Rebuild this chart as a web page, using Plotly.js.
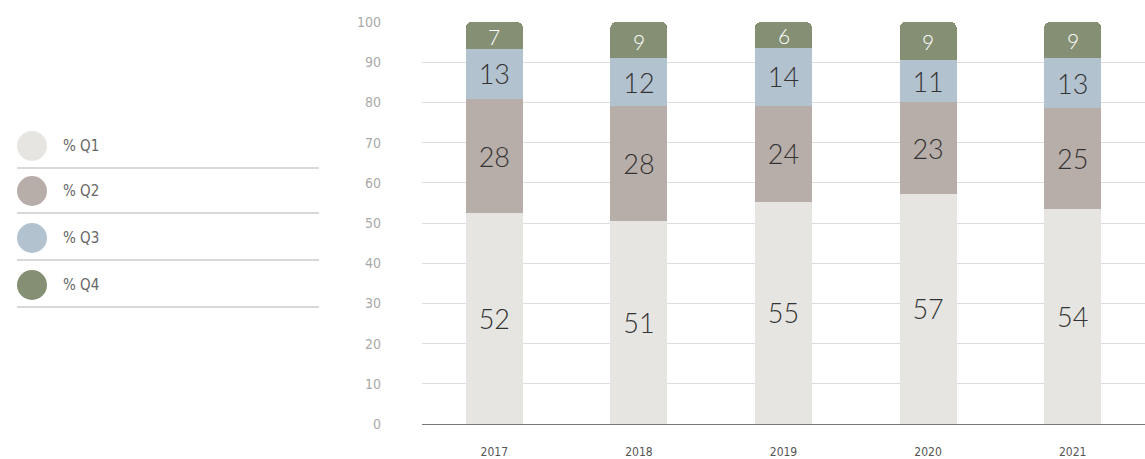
<!DOCTYPE html>
<html>
<head>
<meta charset="utf-8">
<script src="https://cdn.plot.ly/plotly-3.0.1.min.js"></script>
<style>
html,body{margin:0;padding:0;background:#fff;}
#chart{width:1145px;height:459px;}
</style>
</head>
<body>
<div id="chart"></div>
<script>
const years = ['2017', '2018', '2019', '2020', '2021'];
const q1 = [52.4, 50.6, 55.3, 57.3, 53.6];
const q2 = [28.4, 28.4, 23.9, 22.7, 24.9];
const q3 = [12.6, 12.0, 14.4, 10.6, 12.6];
const q4 = [6.6, 9.0, 6.4, 9.4, 8.9];
const seriesNames = ['% Q1', '% Q2', '% Q3', '% Q4'];
const colors = ['#e6e5e1', '#b8aea9', '#b3c2cf', '#848f73'];

const series = [q1, q2, q3, q4];
const labelFont = 'Lato, "Open Sans", sans-serif';
const narrowFont = '"DejaVu Sans Condensed", "Liberation Sans Narrow", "Roboto Condensed", sans-serif';
const traces = series.map((vals, i) => ({
  type: 'bar',
  name: seriesNames[i],
  x: years,
  y: vals,
  marker: {color: colors[i], line: {width: 0}},
  text: vals.map(v => String(Math.round(v))),
  textposition: i === 3 ? 'none' : 'inside',
  insidetextanchor: 'middle',
  constraintext: 'none',
  textangle: 0,
  texttemplate: '%{text}',
  textfont: {family: labelFont, size: 27, color: '#333333', weight: 300},
  hoverinfo: 'skip',
  showlegend: false
}));

// custom legend (left side)
const plotLeft = 422, plotW = 723, plotBottom = 424, plotH = 402;
const px = x => (x - plotLeft) / plotW;
const py = y => (plotBottom - y) / plotH;
const legendY = [146, 191, 238, 285];
const sepY = [168, 213, 260, 307];
const shapes = [];
const annotations = [];
seriesNames.forEach((n, i) => {
  shapes.push({
    type: 'circle', xref: 'paper', yref: 'paper',
    xsizemode: 'pixel', ysizemode: 'pixel',
    xanchor: px(32), yanchor: py(legendY[i]),
    x0: -15, x1: 15, y0: -15, y1: 15,
    fillcolor: colors[i], line: {width: 0}
  });
  shapes.push({
    type: 'line', xref: 'paper', yref: 'paper',
    x0: px(17), x1: px(319), y0: py(sepY[i]), y1: py(sepY[i]),
    line: {color: '#cccccc', width: 1.5}
  });
  annotations.push({
    xref: 'paper', yref: 'paper', x: px(61), y: py(legendY[i]),
    xanchor: 'left', yanchor: 'middle', showarrow: false,
    text: n,
    font: {family: narrowFont, size: 15, color: '#666666'}
  });
});

// Q4 labels (white) placed at the middle of the top segment (x = category index)
years.forEach((yr, j) => {
  const base = q1[j] + q2[j] + q3[j];
  annotations.push({
    xref: 'x', yref: 'y', x: j, y: base + q4[j] / 2,
    yshift: -1,
    showarrow: false, xanchor: 'center', yanchor: 'middle',
    text: String(Math.round(q4[j])),
    font: {family: labelFont, size: 21, color: '#ffffff', weight: 300}
  });
});

const layout = {
  width: 1145, height: 459,
  margin: {l: plotLeft, r: 0, t: 22, b: 35},
  paper_bgcolor: '#ffffff', plot_bgcolor: '#ffffff',
  barmode: 'stack',
  bargap: 0.605,
  barcornerradius: 6,
  showlegend: false,
  xaxis: {
    type: 'category',
    categoryorder: 'array',
    categoryarray: years,
    range: [-0.5, years.length - 0.5],
    showgrid: false,
    showline: true, linecolor: '#777777', linewidth: 1,
    ticks: '',
    ticklabelstandoff: 17,
    tickfont: {family: narrowFont, size: 12, color: '#555555'},
    fixedrange: true
  },
  yaxis: {
    range: [0, 100],
    tickvals: [0, 10, 20, 30, 40, 50, 60, 70, 80, 90, 100],
    showgrid: true, gridcolor: '#dddddd', gridwidth: 1,
    zeroline: false,
    showline: false,
    ticks: '',
    ticklabelstandoff: 40,
    tickfont: {family: narrowFont, size: 14, color: '#aaaaaa'},
    fixedrange: true
  },
  shapes: shapes,
  annotations: annotations,
  uniformtext: {mode: false}
};

Plotly.newPlot('chart', traces, layout, {displayModeBar: false, staticPlot: true});
</script>
</body>
</html>
